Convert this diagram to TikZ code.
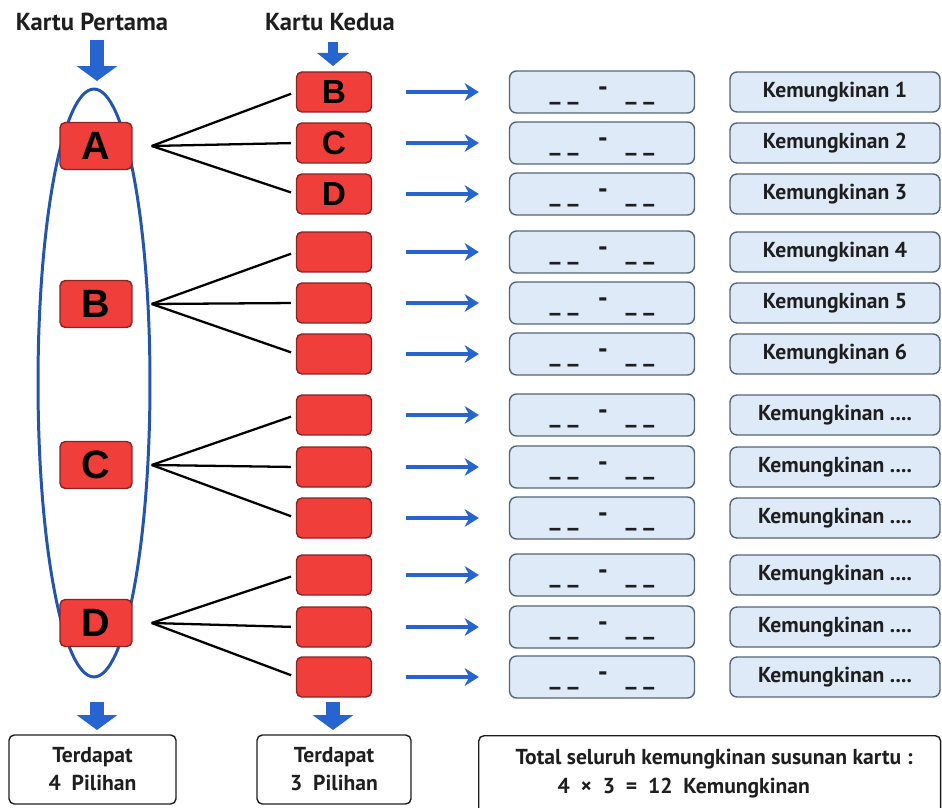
\documentclass[tikz,border=0pt]{standalone}
\usepackage{fontspec}
\setmainfont{PT Sans}
\newfontfamily\hurufkartu{Liberation Sans}
\usetikzlibrary{shapes.geometric, arrows.meta, positioning, calc}
\definecolor{kartumerah}{RGB}{240, 62, 58}
\definecolor{tepimerah}{RGB}{140, 35, 35}
\definecolor{birupanah}{RGB}{38, 100, 208}
\definecolor{biruoval}{RGB}{35, 85, 175}
\definecolor{isislot}{RGB}{222, 234, 248}
\definecolor{tepislot}{RGB}{85, 100, 120}
\definecolor{teksgelap}{RGB}{30, 30, 30}
\newcommand{\isian}{\raisebox{-4.5pt}[0pt][0pt]{\_\kern4pt\_\hspace{11pt}\raisebox{2pt}{\fontsize{16}{16}\selectfont -}\hspace{10pt}\_\kern4pt\_}}

\begin{document}
\begin{tikzpicture}[x=0.02cm, y=-0.02cm,
  kartu/.style={draw=tepimerah, fill=kartumerah, line width=0.8pt, rounded corners=3pt, inner sep=0pt,
    minimum width=1.44cm, minimum height=0.94cm, font=\hurufkartu\bfseries\fontsize{22.5}{22.5}\selectfont},
  kartukecil/.style={kartu, minimum width=1.5cm, minimum height=0.8cm, font=\hurufkartu\bfseries\fontsize{19}{19}\selectfont},
  slot/.style={draw=tepislot, fill=isislot, line width=0.8pt, rounded corners=4pt, inner sep=0pt,
    minimum width=3.7cm, minimum height=0.84cm, font=\bfseries\fontsize{14}{14}\selectfont, text=teksgelap},
  hasil/.style={slot, minimum width=4.2cm, minimum height=0.8cm, font=\bfseries\fontsize{12.3}{13}\selectfont},
  kotak/.style={draw=teksgelap, line width=0.8pt, rounded corners=3pt, inner sep=0pt, align=center,
    text=teksgelap, font=\bfseries\fontsize{12.3}{16}\selectfont},
  judul/.style={font=\bfseries\fontsize{14}{15}\selectfont, text=teksgelap},
  panahtebal/.style={birupanah, line width=8.5pt, -{Triangle[width=22.7pt, length=8.5pt]}},
  panahkecil/.style={birupanah, line width=5.7pt, -{Triangle[width=18pt, length=7.5pt]}},
  panahbaris/.style={birupanah, line width=1.8pt, -{Stealth[length=8pt, width=10pt, inset=2.5pt]}},
  cabang/.style={line width=1.3pt}
]
  \useasboundingbox (0,0) rectangle (942,807);

  % judul kolom
  \node[judul] (judul1) at (92,22) {Kartu Pertama};
  \node[judul] (judul2) at (330,22) {Kartu Kedua};
  \coordinate (a1) at (97,40);  \coordinate (b1) at (97,81);
  \coordinate (a2) at (333,42); \coordinate (b2) at (333,66);
  \draw[panahtebal] (a1) -- (b1);
  \draw[panahkecil] (a2) -- (b2);

  % oval kartu pertama
  \node[ellipse, draw=biruoval, line width=1.7pt, minimum width=2.24cm, minimum height=11.76cm, inner sep=0pt] (oval) at (94,383) {};

  % baris kartu kedua
  \foreach \y/\h [count=\i] in {92/B, 143/C, 194/D, 252/{}, 303/{}, 354/{}, 415/{}, 467/{}, 518/{}, 575/{}, 627/{}, 677/{}} {
    \node[kartukecil] (k\i) at (334,\y) {\h};
    \node[slot] (s\i) at (602,\y) {\isian};
    \node[hasil] (h\i) at (835,\y) {Kemungkinan \ifnum\i<7 \i\else ....\fi};
    \draw[panahbaris, shorten <=0.67cm, shorten >=0.6cm] (k\i.east) -- (s\i.west);
  }

  % kartu pertama dan cabang
  \foreach \h/\y/\a/\b/\c in {A/146/1/2/3, B/304/4/5/6, C/465/7/8/9, D/623/10/11/12} {
    \node[kartu] (\h) at (96,\y) {\h};
    \coordinate (p\h) at ([xshift=0.38cm]\h.east);
    \draw[cabang, shorten >=0.1cm] (p\h) -- (k\a.west);
    \draw[cabang, shorten >=0.1cm] (p\h) -- (k\b.west);
    \draw[cabang, shorten >=0.1cm] (p\h) -- (k\c.west);
  }

  % kesimpulan
  \coordinate (a3) at (97,702);  \coordinate (b3) at (97,730);
  \coordinate (a4) at (333,702); \coordinate (b4) at (333,730);
  \draw[panahtebal] (a3) -- (b3);
  \draw[panahtebal] (a4) -- (b4);
  \node[kotak, minimum width=3.34cm, minimum height=1.38cm] (pilih1) at (92.5,769.5) {Terdapat\\4\enspace Pilihan};
  \node[kotak, minimum width=3.08cm, minimum height=1.38cm] (pilih2) at (334,769.5) {Terdapat\\3\enspace Pilihan};
  \node[kotak, anchor=north west, minimum width=9.24cm, minimum height=2cm] (total) at (478,735) {};
  \node[kotak, draw=none, anchor=north west, align=left, font=\bfseries\fontsize{12.3}{17}\selectfont]
    (rumus) at ([xshift=0.74cm, yshift=-0.26cm]total.north west)
    {Total seluruh kemungkinan susunan kartu :\\
     \hspace{0.84cm}4\enspace×\enspace3\enspace=\enspace12\enspace Kemungkinan};
\end{tikzpicture}
\end{document}
